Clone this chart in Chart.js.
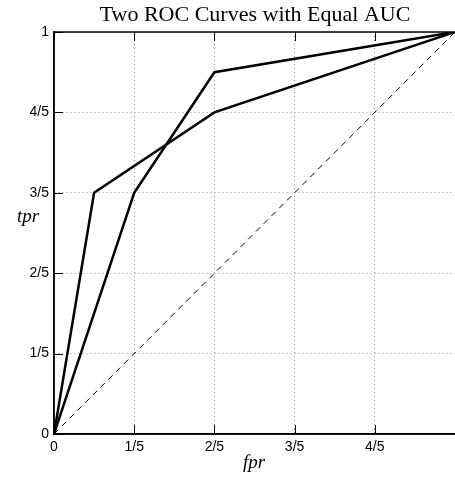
<!DOCTYPE html>
<html>
<head>
<meta charset="utf-8">
<script src="https://cdn.jsdelivr.net/npm/chart.js@4/dist/chart.umd.min.js"></script>
<style>
  html, body { margin: 0; padding: 0; background: #fff; }
  #wrap { width: 455px; height: 477px; position: relative; }
</style>
</head>
<body>
<div id="wrap"><canvas id="c" width="455" height="477"></canvas></div>
<script>
// ---- data ----
const fprA = [0, 0.1, 0.4, 1];
const tprA = [0, 0.6, 0.8, 1];
const fprB = [0, 0.2, 0.4, 1];
const tprB = [0, 0.6, 0.9, 1];
const chanceX = [0, 1];
const chanceY = [0, 1];
const tickValues = [0, 0.2, 0.4, 0.6, 0.8, 1];
const xTickLabels = ['0', '1/5', '2/5', '3/5', '4/5', ''];
const yTickLabels = ['0', '1/5', '2/5', '3/5', '4/5', '1'];
const titleText = 'Two ROC Curves with Equal AUC';
const xLabel = 'fpr';
const yLabel = 'tpr';

function pts(xs, ys) { return xs.map((x, i) => ({ x: x, y: ys[i] })); }
function labelFor(list, v) {
  const i = tickValues.findIndex(t => Math.abs(t - v) < 1e-6);
  return i >= 0 ? list[i] : '';
}

const framePlugin = {
  id: 'frame',
  afterDatasetsDraw(chart) {
    const ctx = chart.ctx, a = chart.chartArea;
    const xs = chart.scales.x, ys = chart.scales.y;
    ctx.save();
    ctx.strokeStyle = '#000';
    ctx.lineWidth = 1;
    ctx.setLineDash([]);
    ctx.beginPath();
    const L = 9;
    tickValues.forEach(v => {
      const px = Math.round(xs.getPixelForValue(v)) + 0.5;
      if (px < a.right - 1) {
        ctx.moveTo(px, a.bottom); ctx.lineTo(px, a.bottom - L);
        ctx.moveTo(px, a.top); ctx.lineTo(px, a.top + L);
      }
      const py = Math.round(ys.getPixelForValue(v)) + 0.5;
      ctx.moveTo(a.left, py); ctx.lineTo(a.left + L, py);
    });
    ctx.stroke();
    ctx.lineWidth = 1.5;
    ctx.beginPath();
    ctx.moveTo(a.right + 2, a.top); ctx.lineTo(a.left, a.top);
    ctx.lineTo(a.left, a.bottom); ctx.lineTo(a.right + 2, a.bottom);
    ctx.stroke();
    ctx.restore();
  },
  afterDraw(chart) {
    const ctx = chart.ctx;
    ctx.save();
    ctx.fillStyle = '#000';
    ctx.textAlign = 'center';
    ctx.textBaseline = 'alphabetic';
    ctx.font = '22px "Liberation Serif", serif';
    ctx.fillText(titleText, 255, 21);
    ctx.font = 'italic 19px "Liberation Serif", serif';
    ctx.fillText(xLabel, 254, 468);
    ctx.fillText(yLabel, 28, 222);
    ctx.restore();
  }
};

const lineStyle = { borderColor: '#000', borderWidth: 2.5, pointRadius: 0, pointHoverRadius: 0, fill: false, tension: 0, showLine: true };
const gridColor = ctx => (ctx.tick && Math.abs(ctx.tick.value - 1) < 1e-6 && ctx.scale.axis === 'x') ? 'rgba(0,0,0,0)' : '#999';

new Chart(document.getElementById('c'), {
  type: 'scatter',
  data: {
    datasets: [
      Object.assign({ label: 'A', data: pts(fprA, tprA) }, lineStyle),
      Object.assign({ label: 'B', data: pts(fprB, tprB) }, lineStyle),
      { label: 'chance', data: pts(chanceX, chanceY), borderColor: '#000', borderWidth: 1,
        borderDash: [6, 5], pointRadius: 0, pointHoverRadius: 0, showLine: true, fill: false }
    ]
  },
  plugins: [framePlugin],
  options: {
    responsive: false,
    animation: false,
    devicePixelRatio: 1,
    layout: { autoPadding: false, padding: { top: 32, right: 0, left: 0, bottom: 0 } },
    plugins: { legend: { display: false }, tooltip: { enabled: false }, title: { display: false } },
    scales: {
      x: {
        type: 'linear', min: 0, max: 1,
        afterBuildTicks(scale) { scale.ticks = tickValues.map(v => ({ value: v })); },
        afterFit(scale) { scale.height = 43; scale.paddingRight = 0; },
        ticks: {
          autoSkip: false, maxRotation: 0, padding: 5, color: '#000',
          font: { family: '"Liberation Sans", Arial, sans-serif', size: 14 },
          callback: v => labelFor(xTickLabels, v)
        },
        grid: { color: gridColor, lineWidth: 1, drawTicks: false },
        border: { display: true, color: '#000', width: 1.5, dash: [1, 3] }
      },
      y: {
        type: 'linear', min: 0, max: 1,
        afterBuildTicks(scale) { scale.ticks = tickValues.map(v => ({ value: v })); },
        afterFit(scale) { scale.width = 54; },
        ticks: {
          autoSkip: false, padding: 5, color: '#000',
          font: { family: '"Liberation Sans", Arial, sans-serif', size: 14 },
          callback: v => labelFor(yTickLabels, v)
        },
        grid: { color: '#999', lineWidth: 1, drawTicks: false },
        border: { display: true, color: '#000', width: 1.5, dash: [1, 3] }
      }
    }
  }
});
</script>
</body>
</html>
